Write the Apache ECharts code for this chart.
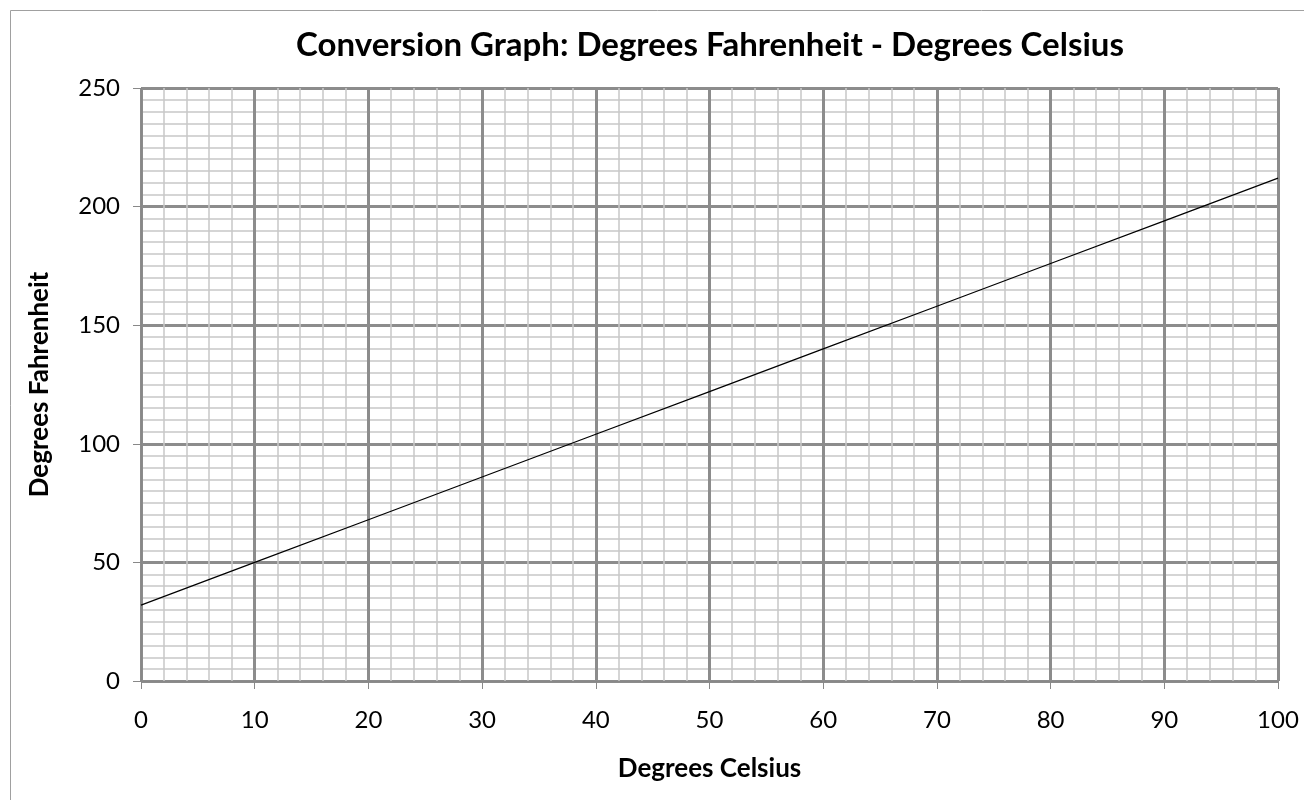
<!DOCTYPE html>
<html>
<head>
<meta charset="utf-8">
<script src="https://cdn.jsdelivr.net/npm/echarts@6/dist/echarts.min.js"></script>
<style>
html,body{margin:0;padding:0;background:#fff;}
#chart{width:1304px;height:800px;}
</style>
</head>
<body>
<div id="chart"></div>
<script>
const titleText = 'Conversion Graph: Degrees Fahrenheit - Degrees Celsius';
const xName = 'Degrees Celsius';
const yName = 'Degrees Fahrenheit';
const celsius = [0, 10, 20, 30, 40, 50, 60, 70, 80, 90, 100];
const fahrenheit = [32, 50, 68, 86, 104, 122, 140, 158, 176, 194, 212];

const FONT = 'Lato, "Open Sans", sans-serif';
const chart = echarts.init(document.getElementById('chart'), null, {renderer: 'canvas'});
chart.setOption({
  animation: false,
  backgroundColor: '#fff',
  graphic: [{
    type: 'rect', left: 8, top: 8, z: -10,
    shape: {width: 1400, height: 900},
    style: {fill: 'none', stroke: '#a0a0a0', lineWidth: 1}
  }, {
    type: 'text', x: 710, y: 45, z: 20,
    style: {
      text: titleText, align: 'center', verticalAlign: 'middle',
      font: 'bold 33px Lato, "Open Sans", sans-serif', fill: '#000'
    }
  }],
  grid: {left: 141, right: 26, top: 88, bottom: 119, containLabel: false},
  xAxis: {
    type: 'value', min: 0, max: 100, interval: 10,
    name: xName, nameLocation: 'middle', nameGap: 75,
    nameTextStyle: {fontFamily: FONT, fontSize: 26, fontWeight: 'bold', color: '#000'},
    axisLine: {show: true, lineStyle: {color: '#888', width: 1}},
    axisTick: {show: true, length: 8, lineStyle: {color: '#888'}},
    axisLabel: {fontFamily: FONT, fontSize: 24, color: '#000', margin: 27},
    splitLine: {show: true, lineStyle: {color: '#8c8c8c', width: 3}},
    minorTick: {show: false, splitNumber: 5},
    minorSplitLine: {show: true, lineStyle: {color: '#c8c8c8', width: 1.5}}
  },
  yAxis: {
    type: 'value', min: 0, max: 250, interval: 50,
    name: yName, nameLocation: 'middle', nameGap: 88,
    nameTextStyle: {fontFamily: FONT, fontSize: 26, fontWeight: 'bold', color: '#000'},
    axisLine: {show: true, lineStyle: {color: '#888', width: 1}},
    axisTick: {show: true, length: 8, lineStyle: {color: '#888'}},
    axisLabel: {fontFamily: FONT, fontSize: 24, color: '#000', margin: 21},
    splitLine: {show: true, lineStyle: {color: '#8c8c8c', width: 3}},
    minorTick: {show: false, splitNumber: 10},
    minorSplitLine: {show: true, lineStyle: {color: '#c8c8c8', width: 1.5}}
  },
  series: [{
    type: 'line',
    data: celsius.map((c, i) => [c, fahrenheit[i]]),
    showSymbol: false,
    lineStyle: {color: '#000', width: 1.2},
    z: 10
  }]
});
</script>
</body>
</html>
